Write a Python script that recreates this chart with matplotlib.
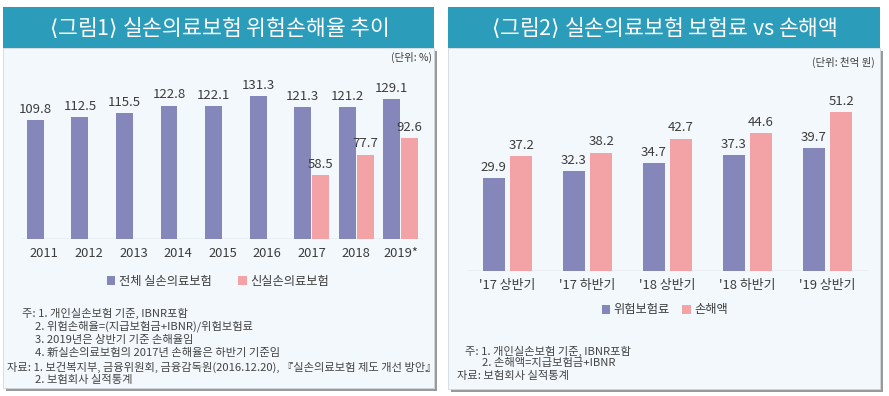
import matplotlib.pyplot as plt
from matplotlib.patches import Rectangle

plt.rcParams['font.family'] = ['Noto Sans CJK KR', 'DejaVu Sans']

# figure 1 data
years = ["2011", "2012", "2013", "2014", "2015", "2016", "2017", "2018", "2019*"]
total_ratio = [109.8, 112.5, 115.5, 122.8, 122.1, 131.3, 121.3, 121.2, 129.1]
new_ratio = [None, None, None, None, None, None, 58.5, 77.7, 92.6]

# figure 2 data
halves = ["'17 상반기", "'17 하반기", "'18 상반기", "'18 하반기", "'19 상반기"]
premium = [29.9, 32.3, 34.7, 37.3, 39.7]
loss = [37.2, 38.2, 42.7, 44.6, 51.2]

BLUE = "#8587ba"
PINK = "#f3a2a5"
TEAL = "#2b9dbb"
PANEL = "#f2f8fc"
TXT = "#3c3c3c"

W, H = 889, 396
fig = plt.figure(figsize=(W / 100, H / 100), dpi=100)
fig.patch.set_facecolor("white")


def px(x0, y0, x1, y1):
    # pixel box (top-left origin) -> figure rect
    return [x0 / W, 1 - y1 / H, (x1 - x0) / W, (y1 - y0) / H]


def panel(x0, x1, y_bot, title):
    l, b, w, h = px(x0, 48, x1, y_bot)
    fig.patches.append(Rectangle((l + 2.5 / W, b - 2.5 / H), w, h, transform=fig.transFigure,
                                 facecolor="#9a9a9a", edgecolor="none", zorder=0))
    fig.patches.append(Rectangle((l, b), w, h, transform=fig.transFigure,
                                 facecolor=PANEL, edgecolor="#d0d8de", lw=0.6, zorder=0.5))
    l, b, w, h = px(x0, 7, x1, 48)
    fig.patches.append(Rectangle((l, b), w, h, transform=fig.transFigure,
                                 facecolor=TEAL, edgecolor="none", zorder=0.6))
    fig.text(l + w / 2, b + h / 2, title, color="white", fontsize=15.5,
             ha="center", va="center", zorder=3)


panel(3, 434, 388, r"$\langle$그림1$\rangle$ 실손의료보험 위험손해율 추이")
panel(448, 880, 389, r"$\langle$그림2$\rangle$ 실손의료보험 보험료 vs 손해액")


def style_axes(ax, labels):
    ax.set_zorder(5)
    ax.set_facecolor("none")
    for s in ax.spines.values():
        s.set_visible(False)
    ax.set_yticks([])
    ax.set_xticks(range(len(labels)))
    ax.set_xticklabels(labels, fontsize=9.3, color=TXT)
    ax.tick_params(axis="x", length=0, pad=6)
    ax.axhline(0, color="#c9cdd1", lw=1.0, zorder=1)
    ax.set_xlim(-0.5, len(labels) - 0.5)


def label_bars(ax, bars, values, size):
    for rect, v in zip(bars, values):
        if v is None:
            continue
        ax.annotate(f"{v:.1f}", (rect.get_x() + rect.get_width() / 2, v),
                    xytext=(0, 3), textcoords="offset points",
                    ha="center", va="bottom", fontsize=size, color=TXT)


# ---- left chart
ax1 = fig.add_axes(px(22, 76, 423, 239))
idx1 = list(range(len(years)))
b1 = ax1.bar([i - 0.2 for i in idx1], total_ratio, width=0.38, color=BLUE, zorder=2,
             label="전체 실손의료보험")
new_x = [i + 0.2 for i, v in zip(idx1, new_ratio) if v is not None]
new_v = [v for v in new_ratio if v is not None]
b2 = ax1.bar(new_x, new_v, width=0.38, color=PINK, zorder=2, label="신실손의료보험")
style_axes(ax1, years)
ax1.set_ylim(0, 150)
label_bars(ax1, b1, total_ratio, 9.5)
label_bars(ax1, b2, new_v, 9.5)
fig.text(432 / W, 1 - 57 / H, "(단위: %)", fontsize=7.5, color=TXT, ha="right", va="center")
fig.legend(handles=[b1, b2], loc="center", bbox_to_anchor=(218 / W, 1 - 281 / H),
           ncol=2, frameon=False, fontsize=8.8, handlelength=0.7, handleheight=0.7,
           handletextpad=0.3, columnspacing=2.2, labelcolor=TXT)

# ---- right chart
ax2 = fig.add_axes(px(467.5, 85, 867.5, 271))
idx2 = list(range(len(halves)))
b3 = ax2.bar([i - 0.17 for i in idx2], premium, width=0.275, color=BLUE, zorder=2,
             label="위험보험료")
b4 = ax2.bar([i + 0.17 for i in idx2], loss, width=0.275, color=PINK, zorder=2,
             label="손해액")
style_axes(ax2, halves)
ax2.set_ylim(0, 60)
label_bars(ax2, b3, premium, 9.5)
label_bars(ax2, b4, loss, 9.5)
fig.text(875 / W, 1 - 62 / H, "(단위: 천억 원)", fontsize=7.5, color=TXT, ha="right", va="center")
fig.legend(handles=[b3, b4], loc="center", bbox_to_anchor=(665 / W, 1 - 310 / H),
           ncol=2, frameon=False, fontsize=8.8, handlelength=0.7, handleheight=0.7,
           handletextpad=0.3, columnspacing=1.0, labelcolor=TXT)

# ---- notes
NOTE = "#444444"
notes_left = [
    (22, 313, "주: 1. 개인실손보험 기준, IBNR포함"),
    (35, 326, "2. 위험손해율=(지급보험금+IBNR)/위험보험료"),
    (35, 340, "3. 2019년은 상반기 기준 손해율임"),
    (35, 353, "4. 新실손의료보험의 2017년 손해율은 하반기 기준임"),
    (7, 367, "자료: 1. 보건복지부, 금융위원회, 금융감독원(2016.12.20), 『실손의료보험 제도 개선 방안』"),
    (35, 380, "2. 보험회사 실적통계"),
]
notes_right = [
    (465, 351, "주: 1. 개인실손보험 기준, IBNR포함"),
    (482, 363, "2. 손해액=지급보험금+IBNR"),
    (457, 376, "자료: 보험회사 실적통계"),
]
for x, y, t in notes_left + notes_right:
    fig.text(x / W, 1 - y / H, t, fontsize=8.1, color=NOTE, ha="left", va="center")

fig.savefig("out.png", dpi=100)
